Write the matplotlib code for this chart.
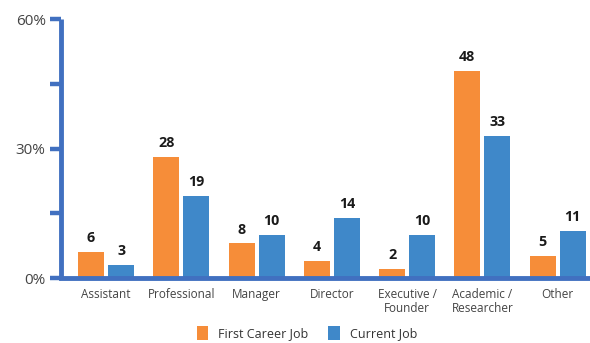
import matplotlib
matplotlib.use("Agg")
import matplotlib.pyplot as plt
from matplotlib.ticker import FixedLocator, FuncFormatter
import numpy as np

categories = ["Assistant", "Professional", "Manager", "Director",
              "Executive /\nFounder", "Academic /\nResearcher", "Other"]
first_job = [6, 28, 8, 4, 2, 48, 5]
current_job = [3, 19, 10, 14, 10, 33, 11]
series_names = ["First Career Job", "Current Job"]
major_ticks = [0, 30, 60]
minor_ticks = [15, 45]

ORANGE = "#F68D39"
BLUE = "#3F88C9"
AXIS = "#4170C0"
TEXT = "#444444"

plt.rcParams["font.family"] = ["Open Sans", "DejaVu Sans"]

fig = plt.figure(figsize=(5.9, 3.43), dpi=100)
ax = fig.add_axes([61 / 590, 1 - 278 / 343, 529 / 590, 259 / 343])

x = np.arange(len(categories))
w = 0.345
off = 0.2
b1 = ax.bar(x - off, first_job, w, color=ORANGE, label=series_names[0], zorder=2)
b2 = ax.bar(x + off, current_job, w, color=BLUE, label=series_names[1], zorder=2)

for bars, vals in ((b1, first_job), (b2, current_job)):
    for r, v in zip(bars, vals):
        ax.annotate(str(v), (r.get_x() + r.get_width() / 2, v),
                    xytext=(0, 5), textcoords="offset points",
                    ha="center", va="bottom", fontsize=10.3,
                    fontweight="bold", color="#1a1a1a")

ax.set_xlim(-0.6, 6.43)
ax.set_ylim(0, 60)
ax.set_xticks(x)
ax.set_xticklabels(categories, fontsize=8.5, color=TEXT, linespacing=1.1)
ax.tick_params(axis="x", length=0, pad=7)

ax.yaxis.set_major_locator(FixedLocator(major_ticks))
ax.yaxis.set_minor_locator(FixedLocator(minor_ticks))
ax.yaxis.set_major_formatter(FuncFormatter(lambda v, p: f"{v:.0f}%"))
ax.tick_params(axis="y", which="both", direction="out", length=8,
               width=3.2, color=AXIS, labelsize=11, labelcolor=TEXT, pad=3)

for s in ("top", "right"):
    ax.spines[s].set_visible(False)
for s in ("left", "bottom"):
    ax.spines[s].set_color(AXIS)
    ax.spines[s].set_linewidth(3.5)
    ax.spines[s].set_zorder(3)
ax.spines["left"].set_capstyle("butt")

leg = fig.legend(handles=[b1, b2], loc="center", bbox_to_anchor=(307 / 590, 1 - 333 / 343),
                 ncol=2, frameon=False, fontsize=9, handlelength=0.9,
                 handleheight=1.3, handletextpad=0.8, columnspacing=1.6)
for t in leg.get_texts():
    t.set_color("#333333")

fig.savefig("out.png", dpi=100)
